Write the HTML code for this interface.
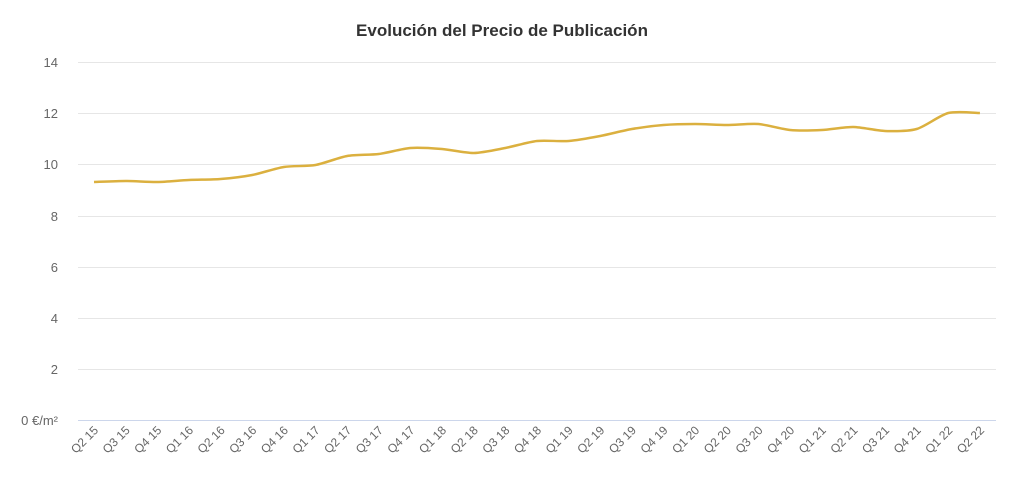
<!DOCTYPE html>
<html><head><meta charset="utf-8"><style>
html,body{margin:0;padding:0;background:#fff;}
body{width:1015px;height:488px;overflow:hidden;font-family:"Liberation Sans",sans-serif;}
</style></head><body>
<svg width="1015" height="488" xmlns="http://www.w3.org/2000/svg" font-family="Liberation Sans, sans-serif">
<text x="502" y="36" text-anchor="middle" font-size="17" font-weight="bold" fill="#333">Evolución del Precio de Publicación</text>
<g stroke="#e6e6e6" stroke-width="1">
<line x1="78" x2="996" y1="62.5" y2="62.5"/>
<line x1="78" x2="996" y1="113.5" y2="113.5"/>
<line x1="78" x2="996" y1="164.5" y2="164.5"/>
<line x1="78" x2="996" y1="216.5" y2="216.5"/>
<line x1="78" x2="996" y1="267.5" y2="267.5"/>
<line x1="78" x2="996" y1="318.5" y2="318.5"/>
<line x1="78" x2="996" y1="369.5" y2="369.5"/>
</g>
<line x1="78" x2="996" y1="420.5" y2="420.5" stroke="#ccd6eb" stroke-width="1"/>
<g font-size="13" fill="#666" text-anchor="end">
<text x="58" y="67">14</text>
<text x="58" y="118">12</text>
<text x="58" y="169">10</text>
<text x="58" y="221">8</text>
<text x="58" y="272">6</text>
<text x="58" y="323">4</text>
<text x="58" y="374">2</text>
<text x="58" y="425">0 €/m²</text>
</g>
<g id="xl" font-size="12" fill="#666" text-anchor="end"></g>
<path id="ln" fill="none" stroke="#dbb03f" stroke-width="2.5"/>
</svg>
<script>
var labels=["Q2 15","Q3 15","Q4 15","Q1 16","Q2 16","Q3 16","Q4 16","Q1 17","Q2 17","Q3 17","Q4 17","Q1 18","Q2 18","Q3 18","Q4 18","Q1 19","Q2 19","Q3 19","Q4 19","Q1 20","Q2 20","Q3 20","Q4 20","Q1 21","Q2 21","Q3 21","Q4 21","Q1 22","Q2 22"];
var ys=[182,181,182,180,179,175,167,165,156,154,148,149,153,148,141,141,136,129,125,124,125,124,130,130,127,131,129,113,113];
var g=document.getElementById('xl'),s='';
var pts=[];
for(var i=0;i<labels.length;i++){var x=94+31.64*i;pts.push([x,ys[i]]);
s+='<text transform="translate('+(x+5)+',431) rotate(-45)">'+labels[i]+'</text>';}
g.innerHTML=s;
var d='M'+pts[0][0]+','+pts[0][1];
for(var i=0;i<pts.length-1;i++){
var p0=pts[Math.max(0,i-1)],p1=pts[i],p2=pts[i+1],p3=pts[Math.min(pts.length-1,i+2)];
var t=0.4/3;
var c1x=p1[0]+(p2[0]-p0[0])*t,c1y=p1[1]+(p2[1]-p0[1])*t;
var c2x=p2[0]-(p3[0]-p1[0])*t,c2y=p2[1]-(p3[1]-p1[1])*t;
d+=' C'+c1x+','+c1y+' '+c2x+','+c2y+' '+p2[0]+','+p2[1];}
document.getElementById('ln').setAttribute('d',d);
</script>
</body></html>
